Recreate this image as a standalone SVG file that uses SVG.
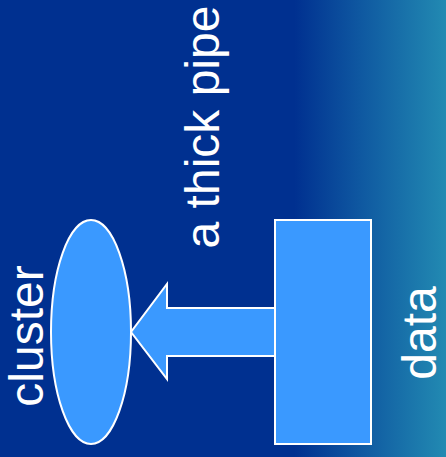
<svg xmlns="http://www.w3.org/2000/svg" width="446" height="457" viewBox="0 0 446 457">
<defs>
<linearGradient id="bg" x1="0" y1="0" x2="1" y2="0">
<stop offset="0" stop-color="#003090"/>
<stop offset="0.66" stop-color="#003090"/>
<stop offset="0.8" stop-color="#0e56a0"/>
<stop offset="1" stop-color="#228ab2"/>
</linearGradient>
</defs>
<style>
.shape{fill:#3a99ff;stroke:#ffffff;stroke-width:2}
.lbl{font-family:"Liberation Sans",Arial,sans-serif;font-size:48px;fill:#ffffff;text-anchor:middle}
</style>
<rect x="0" y="0" width="446" height="457" fill="url(#bg)"/>
<g id="connectors">
<polygon class="shape" points="275,308 167,308 167,284 131,332 167,379 167,356 275,356"/>
<text class="lbl" transform="translate(219,127) rotate(-90)">a thick pipe</text>
</g>
<g id="cluster">
<ellipse class="shape" cx="91" cy="332" rx="40" ry="112"/>
<text class="lbl" transform="translate(43,336) rotate(-90)">cluster</text>
</g>
<g id="data">
<rect class="shape" x="275" y="220" width="96" height="224"/>
<text class="lbl" transform="translate(436,333) rotate(-90)">data</text>
</g>
</svg>
